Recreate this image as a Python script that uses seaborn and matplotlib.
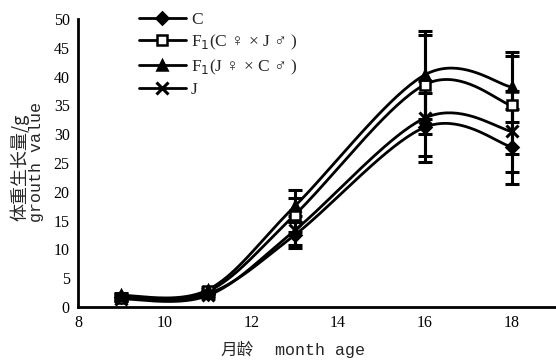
import numpy as np
import pandas as pd
import matplotlib
matplotlib.use("Agg")
import matplotlib.pyplot as plt
import seaborn as sns

# ---- data ----
months = [9, 11, 13, 16, 18]
series_names = ["C", "F$_1$(C ♀ × J ♂ )", "F$_1$(J ♀ × C ♂ )", "J"]
C_vals = [1.8, 2.3, 12.5, 31.2, 27.8]
F1_CJ_vals = [1.5, 2.7, 16.0, 38.6, 35.0]
F1_JC_vals = [2.0, 3.0, 17.5, 40.3, 38.2]
J_vals = [1.4, 2.0, 13.3, 32.8, 30.5]
C_err = [0.4, 0.4, 2.2, 6.0, 6.5]
F1_CJ_err = [0.4, 0.4, 3.0, 8.6, 8.5]
F1_JC_err = [0.4, 0.4, 2.8, 7.6, 6.0]
J_err = [0.4, 0.4, 2.5, 6.5, 7.0]
x_ticks = [8, 10, 12, 14, 16, 18]
y_ticks = [0, 5, 10, 15, 20, 25, 30, 35, 40, 45, 50]

sns.set_style("white")
plt.rcParams['font.family'] = ['Liberation Serif', 'DejaVu Sans']

def smooth(xs, ys, n=40):
    # Catmull-Rom / Excel-like smoothed line rendering
    P = np.column_stack([xs, ys]).astype(float)
    m = len(P)
    out = []
    for i in range(m - 1):
        p0 = P[i - 1] if i > 0 else P[i]
        p1 = P[i]
        p2 = P[i + 1]
        p3 = P[i + 2] if i + 2 < m else P[i + 1]
        c1 = p1 + (p2 - p0) / 6.0
        c2 = p2 - (p3 - p1) / 6.0
        t = np.linspace(0, 1, n)[:, None]
        seg = ((1 - t) ** 3) * p1 + 3 * ((1 - t) ** 2) * t * c1 + 3 * (1 - t) * t ** 2 * c2 + t ** 3 * p2
        out.append(seg if i == 0 else seg[1:])
    S = np.vstack(out)
    return S[:, 0], S[:, 1]

fig = plt.figure(figsize=(5.56, 3.64), dpi=100)
ax = fig.add_axes([78 / 556, 57 / 364, 1 - 78 / 556 - 0.002, (307 - 19) / 364])

data = [C_vals, F1_CJ_vals, F1_JC_vals, J_vals]
errs = [C_err, F1_CJ_err, F1_JC_err, J_err]
markers = ["D", "s", "^", "x"]
mfc = ["black", "white", "black", "black"]
msizes = [6, 7, 7, 8]

handles = []
for name, vals, err, mk, fc, ms in zip(series_names, data, errs, markers, mfc, msizes):
    sx, sy = smooth(months, vals)
    df = pd.DataFrame({"x": sx, "y": sy})
    sns.lineplot(data=df, x="x", y="y", ax=ax, color="black", lw=2.0, sort=False,
                 estimator=None)
    ax.errorbar(months, vals, yerr=err, fmt="none", ecolor="black", elinewidth=2.2,
                capsize=5, capthick=2.2, zorder=3)
    if mk == "x":
        ax.plot(months, vals, linestyle="none", marker=mk, ms=ms, mew=2.2,
                color="black", zorder=4)
    else:
        ax.plot(months, vals, linestyle="none", marker=mk, ms=ms, mfc=fc,
                mec="black", mew=1.8, zorder=4)
    h, = ax.plot([], [], color="black", lw=2.0, marker=mk, ms=ms,
                 mfc=fc if mk != "x" else "black", mec="black",
                 mew=2.2 if mk == "x" else 1.8)
    handles.append(h)

ax.set_xlim(8, 19)
ax.set_ylim(0, 50)
ax.set_xticks(x_ticks)
ax.set_yticks(y_ticks)
ax.set_xticklabels([str(v) for v in x_ticks], fontsize=11.5)
ax.set_yticklabels([str(v) for v in y_ticks], fontsize=11.5)
ax.tick_params(direction="in", length=4, width=1.5, colors="black", pad=6)
ax.set_xlabel("")
ax.set_ylabel("")
for s in ["top", "right"]:
    ax.spines[s].set_visible(False)
for s in ["left", "bottom"]:
    ax.spines[s].set_linewidth(2.0)
    ax.spines[s].set_color("black")

leg = ax.legend(handles, series_names, loc="upper left", bbox_to_anchor=(0.095, 1.08),
                frameon=False, handlelength=2.7, handletextpad=0.3,
                labelspacing=0.3, prop={'family': ['Liberation Serif', 'DejaVu Sans'], 'size': 12.5})

fig.text(237 / 556, 1 - 350 / 364, "月龄", fontsize=12, family=['Noto Sans CJK SC', 'DejaVu Sans'],
         ha="center", va="center")
fig.text(320 / 556, 1 - 350 / 364, "month age", fontsize=12, family=['Liberation Mono', 'DejaVu Sans'],
         ha="center", va="center")
fig.text(20 / 556, 1 - 167 / 364, "体重生长量/g", fontsize=13, rotation=90,
         family=['Noto Sans CJK SC', 'DejaVu Sans'], ha="center", va="center")
fig.text(37 / 556, 1 - 162 / 364, "grouth value", fontsize=12, rotation=90,
         family=['Liberation Mono', 'DejaVu Sans'], ha="center", va="center")

fig.savefig("out.png", dpi=100)
